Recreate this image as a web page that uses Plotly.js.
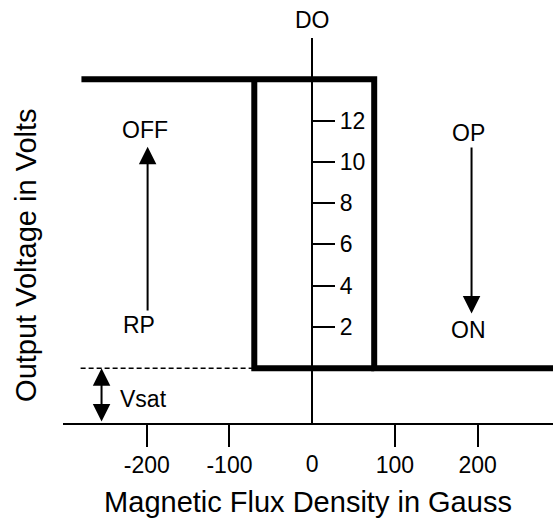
<!DOCTYPE html>
<html>
<head>
<meta charset="utf-8">
<script src="https://cdn.plot.ly/plotly-3.0.1.min.js"></script>
<style>html,body{margin:0;padding:0;background:#fff;}#chart{width:553px;height:518px;}</style>
</head>
<body>
<div id="chart"></div>
<script>
// Hysteresis loop (output voltage vs magnetic flux density)
var highLevel = 14;           // output high (V)
var lowLevel = 0;             // output low (Vsat level)
var operatePoint = 75;        // OP (Gauss)
var releasePoint = -70;       // RP (Gauss)
var loopStart = -279;         // left end of the high branch
var loopEnd = 300;            // right end of the low branch
var axisBottom = -2.65;       // y position of the flux axis

var xRange = [-301.3, 291.2];
var yRange = [axisBottom, 16.0];

var xTickVals = [-200, -100, 100, 200];
var xTickText = ['-200', '-100', '100', '200'];
var xZeroVals = [0];
var xZeroText = ['0'];
var yTickVals = [2, 4, 6, 8, 10, 12];
var yTickText = ['2', '4', '6', '8', '10', '12'];

var upperX = [loopStart, operatePoint, operatePoint, loopEnd];
var upperY = [highLevel, highLevel, lowLevel, lowLevel];
var lowerX = [releasePoint, releasePoint, operatePoint];
var lowerY = [highLevel, lowLevel, lowLevel];
var dashX = [-280, releasePoint];
var dashY = [lowLevel, lowLevel];

var offArrowX = -199, offArrowFrom = 2.73, offArrowTo = 10.73;
var onArrowX = 192.7, onArrowFrom = 10.77, onArrowTo = 2.66;
var vsatArrowX = -254.7;

var FONT = 'Liberation Sans, Arial, Helvetica, sans-serif';

var traces = [
  {x: upperX, y: upperY, mode: 'lines', line: {color: '#000', width: 6}, hoverinfo: 'skip', showlegend: false},
  {x: lowerX, y: lowerY, mode: 'lines', line: {color: '#000', width: 6}, hoverinfo: 'skip', showlegend: false},
  {x: dashX, y: dashY, mode: 'lines', line: {color: '#000', width: 1.5, dash: '5px,3px'}, hoverinfo: 'skip', showlegend: false},
  {x: [0], y: [null], xaxis: 'x2', yaxis: 'y2', mode: 'lines', hoverinfo: 'skip', showlegend: false}
];

function txt(t, x, y, yref) {
  return {text: t, x: x, y: y, xref: 'x', yref: yref || 'y', showarrow: false,
          xanchor: 'center', yanchor: 'middle', font: {family: FONT, size: 23, color: '#000'}};
}
function arrow(x, from, to, both) {
  return {text: '', x: x, y: to, ax: x, ay: from, xref: 'x', yref: 'y', axref: 'x', ayref: 'y',
          showarrow: true, arrowhead: 2, arrowsize: 1.75, arrowwidth: 2, arrowcolor: '#000',
          standoff: 0, startstandoff: 0, arrowside: both ? 'end+start' : 'end',
          startarrowhead: 2, startarrowsize: 1.75};
}

var annotations = [
  txt('DO', 0, 1.046, 'paper'),
  txt('OFF', -202, 11.54),
  txt('RP', -210, 2.1),
  txt('OP', 188.6, 11.38),
  txt('ON', 188.6, 1.86),
  txt('Vsat', -203.5, -1.48),
  arrow(offArrowX, offArrowFrom, offArrowTo, false),
  arrow(onArrowX, onArrowFrom, onArrowTo, false),
  arrow(vsatArrowX, axisBottom, lowLevel, true),
  {text: 'Output Voltage in Volts', xref: 'paper', yref: 'paper', x: -0.0755, y: 0.434,
   xanchor: 'center', yanchor: 'middle', textangle: -90, showarrow: false,
   font: {family: FONT, size: 29, color: '#000'}}
];

var layout = {
  width: 553, height: 518,
  margin: {l: 63, r: 0, t: 38, b: 95, pad: 0},
  paper_bgcolor: '#fff', plot_bgcolor: '#fff',
  font: {family: FONT, color: '#000'},
  showlegend: false,
  xaxis: {
    range: xRange, showgrid: false,
    showline: true, linecolor: '#000', linewidth: 2,
    zeroline: true, zerolinecolor: '#000', zerolinewidth: 1.5,
    ticks: 'outside', ticklen: 22, tickwidth: 2, tickcolor: '#000',
    tickvals: xTickVals, ticktext: xTickText, ticklabelstandoff: -2,
    tickfont: {family: FONT, size: 23, color: '#000'},
    title: {text: 'Magnetic Flux Density in Gauss', font: {family: FONT, size: 29, color: '#000'}, standoff: 16},
    fixedrange: true
  },
  xaxis2: {
    overlaying: 'x', matches: 'x', range: xRange, anchor: 'y', side: 'bottom',
    showgrid: false, showline: false, zeroline: false,
    ticks: 'outside', ticklen: 22, tickwidth: 0.01, tickcolor: 'rgba(0,0,0,0)',
    tickvals: xZeroVals, ticktext: xZeroText, ticklabelstandoff: -2,
    tickfont: {family: FONT, size: 23, color: '#000'}
  },
  yaxis: {
    range: yRange, showgrid: false, showline: false, zeroline: false,
    ticks: '', showticklabels: false, fixedrange: true
  },
  yaxis2: {
    overlaying: 'y', matches: 'y', range: yRange, side: 'right', anchor: 'free',
    position: (0 - xRange[0]) / (xRange[1] - xRange[0]),
    showgrid: false, showline: false, zeroline: false,
    ticks: 'outside', ticklen: 22, tickwidth: 2, tickcolor: '#000',
    tickvals: yTickVals, ticktext: yTickText, ticklabelstandoff: 0,
    tickfont: {family: FONT, size: 23, color: '#000'}
  },
  annotations: annotations
};

Plotly.newPlot('chart', traces, layout, {staticPlot: true, displayModeBar: false});
</script>
</body>
</html>
